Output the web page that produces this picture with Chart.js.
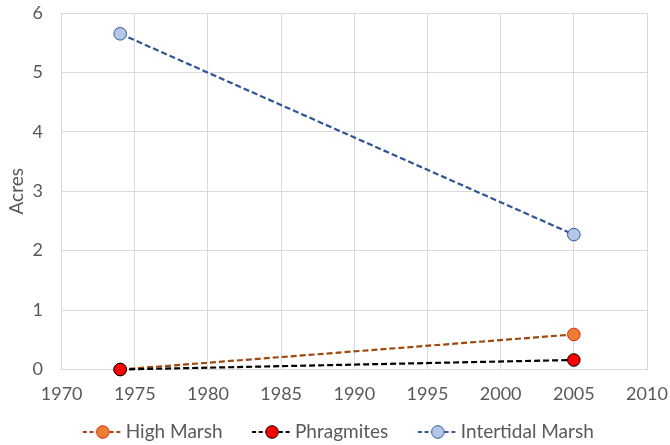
<!DOCTYPE html>
<html>
<head>
<meta charset="utf-8">
<script src="https://cdn.jsdelivr.net/npm/chart.js@4.4.0/dist/chart.umd.min.js"></script>
<style>
  html, body { margin: 0; padding: 0; background: #fff; }
  #wrap { width: 670px; height: 445px; }
</style>
</head>
<body>
<div id="wrap"><canvas id="chart"></canvas></div>
<script>
// data
const years = [1974, 2005];
const highMarsh = [0, 0.59];
const phragmites = [0, 0.16];
const intertidalMarsh = [5.65, 2.27];
const seriesNames = ['High Marsh', 'Phragmites', 'Intertidal Marsh'];

// legend swatch: dashed line with a circle, blank strip on the left keeps the item gap
const SW_W = 59, SW_L = 19;
function legendSwatch(lineColor, fill, stroke) {
  const c = document.createElement('canvas');
  c.width = SW_W; c.height = 16;
  const g = c.getContext('2d');
  g.strokeStyle = lineColor;
  g.lineWidth = 2;
  g.setLineDash([4, 2.7]);
  g.beginPath();
  g.moveTo(SW_L, 8); g.lineTo(SW_W, 8);
  g.stroke();
  g.setLineDash([]);
  g.beginPath();
  g.arc(SW_L + 20, 8, 6.3, 0, Math.PI * 2);
  g.fillStyle = fill;
  g.fill();
  g.lineWidth = 1;
  g.strokeStyle = stroke;
  g.stroke();
  return c;
}

const styles = [
  { line: '#9E480E', fill: '#ED7D31', stroke: '#D42A1A' },
  { line: '#000000', fill: '#FF0000', stroke: '#000000' },
  { line: '#2F5597', fill: '#B4C7E7', stroke: '#2F5597' }
];
const seriesData = [highMarsh, phragmites, intertidalMarsh];
const drawOrder = [2, 1, 3];

const datasets = seriesNames.map((name, i) => ({
  label: name,
  data: years.map((y, j) => ({ x: y, y: seriesData[i][j] })),
  order: drawOrder[i],
  borderColor: styles[i].line,
  borderWidth: 2.2,
  borderDash: [6, 3],
  pointRadius: 6.3,
  pointHoverRadius: 6.3,
  pointBackgroundColor: styles[i].fill,
  pointBorderColor: styles[i].stroke,
  pointBorderWidth: 1,
  pointStyle: 'circle',
  fill: false,
  tension: 0,
  clip: false,
  swatch: legendSwatch(styles[i].line, styles[i].fill, styles[i].stroke)
}));

const tickFont = { family: 'Lato', size: 18, lineHeight: 1 };
const grey = '#595959';
const noTick = 'rgba(0,0,0,0)';

new Chart(document.getElementById('chart'), {
  type: 'line',
  data: { datasets: datasets },
  options: {
    responsive: true,
    maintainAspectRatio: false,
    animation: false,
    layout: { padding: { left: 17, right: 23, top: 0, bottom: -6.5 } },
    plugins: {
      tooltip: { enabled: false },
      legend: {
        position: 'bottom',
        labels: {
          usePointStyle: true,
          pointStyleWidth: 46,
          padding: 17,
          color: grey,
          font: { family: 'Lato', size: 19 },
          generateLabels: (chart) => seriesNames.map((name, i) => ({
            text: name,
            pointStyle: chart.data.datasets[i].swatch,
            fontColor: grey,
            datasetIndex: i,
            hidden: false,
            lineWidth: 0
          }))
        }
      }
    },
    scales: {
      x: {
        type: 'linear',
        min: 1970,
        max: 2010,
        ticks: { stepSize: 5, color: grey, font: tickFont, padding: 2, callback: (v) => String(v) },
        grid: { color: '#D9D9D9', lineWidth: 1, drawTicks: true, tickLength: 14, tickColor: noTick },
        border: { color: '#D9D9D9' }
      },
      y: {
        min: 0,
        max: 6,
        ticks: { stepSize: 1, color: grey, font: tickFont, padding: 4 },
        grid: { color: '#D9D9D9', lineWidth: 1, drawTicks: true, tickLength: 14.7, tickColor: noTick },
        border: { color: '#D9D9D9' },
        title: {
          display: true, text: 'Acres', color: grey,
          font: { family: 'Lato', size: 19, lineHeight: 1 },
          padding: { top: -9.5, bottom: 2 }
        }
      }
    }
  }
});
</script>
</body>
</html>
